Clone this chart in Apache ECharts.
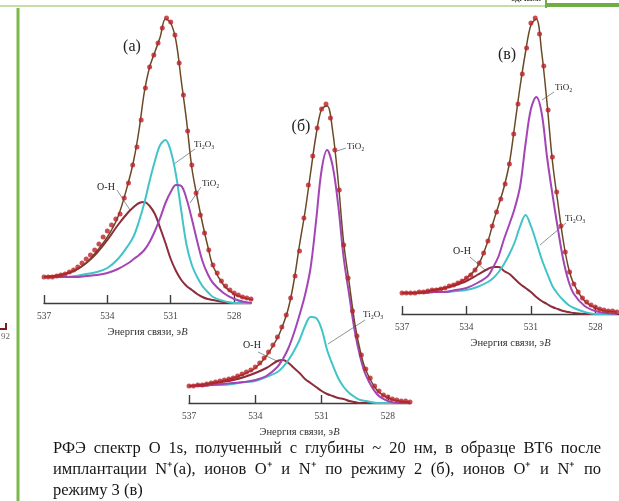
<!DOCTYPE html>
<html>
<head>
<meta charset="utf-8">
<script src="https://cdn.jsdelivr.net/npm/echarts@6/dist/echarts.min.js"></script>
<style>
  html, body { margin: 0; background: #fff; }
  #chart { width: 619px; height: 501px; }
</style>
</head>
<body>
<div id="chart"></div>
<script>
// energy grid of the fitted curves (eV) and of the measured points
const gridE = [537, 536.5, 536, 535.5, 535, 534.5, 534, 533.5, 533, 532.75, 532.5, 532.25, 532, 531.75, 531.5, 531.25, 531, 530.75, 530.5, 530.25, 530, 529.75, 529.5, 529.25, 529, 528.5, 528, 527.5, 527]
const dotE = [537, 536.8, 536.6, 536.4, 536.2, 536, 535.8, 535.6, 535.4, 535.2, 535, 534.8, 534.6, 534.4, 534.2, 534, 533.8, 533.6, 533.4, 533.2, 533, 532.8, 532.6, 532.4, 532.2, 532, 531.8, 531.6, 531.4, 531.2, 531, 530.8, 530.6, 530.4, 530.2, 530, 529.8, 529.6, 529.4, 529.2, 529, 528.8, 528.6, 528.4, 528.2, 528, 527.8, 527.6, 527.4, 527.2, 527]
const tickValues = [528, 531, 534, 537]

// (а)
const envA = [26, 27, 29, 33, 40, 52, 66, 86, 121, 143, 173, 211, 236, 251, 266, 284, 280, 262, 222, 182, 135, 106, 80, 57, 37, 18, 9, 5, 3]
const ohA = [26, 27, 29, 33, 40, 50, 63, 78, 91, 96, 100, 101, 97, 89, 75, 60, 44, 32, 23, 17, 13, 9, 6, 4, 3, 1, 0, 0, 0]
const ti2o3A = [26, 26, 26, 27, 29, 31, 35, 44, 58, 67, 82, 100, 122, 142, 158, 163, 152, 128, 92, 58, 38, 26, 17, 11, 6, 2, 0, 0, 0]
const tio2A = [26, 26, 26, 26, 27, 28, 30, 34, 40, 44, 48, 53, 61, 72, 85, 100, 111, 118, 117, 104, 84, 62, 42, 29, 20, 10, 4, 1, 0]
const dotsA = [26, 26, 26, 27, 28, 29, 31, 33, 36, 40, 44, 48, 53, 59, 66, 72, 78, 84, 89, 105, 120, 138, 156, 183, 215, 236, 248, 260, 275, 285, 281, 268, 240, 208, 172, 138, 110, 88, 70, 53, 38, 30, 22, 17, 13, 10, 8, 6, 5, 4, 3]

// (б)
const envB = [17, 18, 20, 22, 25, 29, 35, 47, 65, 78, 95, 122, 158, 191, 230, 268, 294, 297, 272, 222, 160, 120, 80, 52, 33, 13, 5, 2, 1]
const ohB = [17, 18, 19, 21, 23, 26, 30, 35, 42, 43, 40, 35, 30, 24, 20, 16, 12, 9, 7, 5, 4, 2, 1, 0, 0, 0, 0, 0, 0]
const ti2o3B = [17, 17, 18, 18, 19, 21, 22, 26, 31, 36, 43, 52, 63, 77, 86, 85, 74, 53, 38, 25, 16, 10, 6, 3, 2, 0, 0, 0, 0]
const tio2B = [17, 17, 18, 19, 20, 21, 23, 27, 36, 44, 55, 70, 88, 108, 135, 182, 233, 253, 237, 198, 145, 108, 72, 46, 28, 9, 2, 0, 0]
const dotsB = [17, 17, 18, 18, 19, 20, 21, 22, 23, 24, 25, 27, 29, 31, 33, 36, 40, 45, 51, 58, 66, 76, 88, 105, 127, 152, 185, 218, 247, 275, 294, 299, 285, 253, 213, 158, 125, 92, 67, 48, 34, 25, 17, 12, 8, 6, 4, 3, 2, 2, 1]

// (в)
const envV = [21, 21, 22, 24, 26, 30, 36, 47, 73, 92, 109, 127, 151, 189, 228, 262, 289, 295, 262, 211, 153, 112, 74, 46, 30, 13, 6, 3, 2]
const ohV = [21, 21, 22, 24, 26, 29, 33, 39, 45, 47, 47, 43, 40, 35, 30, 26, 22, 17, 13, 10, 7, 5, 3, 2, 1, 0, 0, 0, 0]
const ti2o3V = [21, 21, 21, 22, 22, 23, 24, 27, 32, 36, 42, 50, 60, 72, 88, 99, 88, 72, 55, 41, 28, 20, 14, 9, 6, 2, 0, 0, 0]
const tio2V = [21, 21, 21, 22, 22, 24, 26, 31, 38, 47, 58, 75, 90, 106, 128, 170, 205, 217, 201, 157, 120, 86, 55, 33, 20, 8, 3, 1, 0]
const dotsV = [21, 21, 21, 21, 22, 22, 23, 24, 24, 25, 26, 28, 29, 31, 33, 36, 39, 44, 51, 61, 73, 88, 102, 115, 130, 150, 180, 210, 240, 266, 291, 296, 280, 248, 204, 157, 122, 88, 62, 42, 30, 22, 16, 12, 9, 7, 5, 4, 3, 3, 2]

const captionLines = [
  'РФЭ спектр О 1s, полученный с глубины ~ 20 нм, в образце ВТ6 после',
  'имплантации N⁺(а), ионов О⁺ и N⁺ по режиму 2 (б), ионов О⁺ и N⁺ по',
  'режиму 3 (в)'
]

const serif = '"Liberation Serif", "Times New Roman", serif'
const colors = { env: '#6a4a26', dot: '#bb2229', oh: '#8b2d3b', ti2o3: '#41c4c8', tio2: '#a445b5', leader: '#8a979b', axis: '#3c3c3c' }

const panels = [
  { left: 44, top: 13, width: 207, height: 290, min: 527.2, env: envA, oh: ohA, ti2o3: ti2o3A, tio2: tio2A, dots: dotsA },
  { left: 189, top: 93, width: 221, height: 310, min: 527, env: envB, oh: ohB, ti2o3: ti2o3B, tio2: tio2B, dots: dotsB },
  { left: 402, top: 4, width: 217, height: 310, min: 526.9, env: envV, oh: ohV, ti2o3: ti2o3V, tio2: tio2V, dots: dotsV }
]

const pairs = (xs, ys) => xs.map((x, i) => [x, ys[i]])

const grid = [], xAxis = [], yAxis = [], series = []
panels.forEach((p, i) => {
  grid.push({ left: p.left, top: p.top, width: p.width, height: p.height, containLabel: false, outerBoundsMode: 'none' })
  xAxis.push({
    type: 'value', gridIndex: i, min: p.min, max: 537, inverse: true,
    axisLine: { lineStyle: { color: colors.axis, width: 1.4 } },
    axisTick: { inside: true, length: 8, customValues: tickValues, lineStyle: { color: colors.axis, width: 1.4 } },
    axisLabel: { customValues: tickValues, margin: 8, fontFamily: serif, fontSize: 9.5, color: '#444' },
    splitLine: { show: false },
    name: '{t|Энергия связи, э}{i|В}', nameLocation: 'middle', nameGap: 24,
    nameTextStyle: { rich: {
      t: { fontFamily: serif, fontSize: 10.5, color: '#333' },
      i: { fontFamily: serif, fontSize: 10.5, color: '#333', fontStyle: 'italic' }
    } }
  })
  yAxis.push({ type: 'value', gridIndex: i, min: 0, max: p.height, show: false })
  const line = (data, color, width, z) => ({
    type: 'line', xAxisIndex: i, yAxisIndex: i, data: pairs(gridE, data),
    showSymbol: false, smooth: 0.35, lineStyle: { color, width }, z, silent: true
  })
  series.push(line(p.oh, colors.oh, 2, 2))
  series.push(line(p.ti2o3, colors.ti2o3, 2, 2))
  series.push(line(p.tio2, colors.tio2, 2, 2))
  series.push(line(p.env, colors.env, 1.5, 3))
  series.push({
    type: 'scatter', xAxisIndex: i, yAxisIndex: i, data: pairs(dotE, p.dots),
    symbolSize: 5, itemStyle: { color: colors.dot }, z: 4, silent: true
  })
})

// annotations: panel letters, peak names and their leader lines
const notes = [
  { text: '(а)', x: 132, y: 47, size: 16 },
  { text: 'Ti₂O₃', x: 194, y: 145, size: 9, align: 'left' },
  { text: 'TiO₂', x: 202, y: 184, size: 9, align: 'left' },
  { text: 'O-H', x: 106, y: 187, size: 10 },
  { text: '(б)', x: 301, y: 127, size: 16 },
  { text: 'TiO₂', x: 347, y: 147, size: 9, align: 'left' },
  { text: 'Ti₂O₃', x: 363, y: 315, size: 9, align: 'left' },
  { text: 'O-H', x: 252, y: 345, size: 10 },
  { text: '(в)', x: 507, y: 55, size: 16 },
  { text: 'TiO₂', x: 555, y: 88, size: 9, align: 'left' },
  { text: 'Ti₂O₃', x: 565, y: 219, size: 9, align: 'left' },
  { text: 'O-H', x: 462, y: 251, size: 10 }
]
const leaders = [
  [195, 149, 174, 164], [201, 187, 190, 203], [117, 190, 130, 210],
  [346, 148, 337, 151], [365, 320, 328, 344], [258, 352, 281, 363],
  [554, 92, 542, 100], [566, 223, 540, 245], [470, 257, 485, 270]
]

const measure = document.createElement('canvas').getContext('2d')
function justified (text, y, x0, x1, font) {
  measure.font = font
  const words = text.split(' ')
  const widths = words.map(w => measure.measureText(w).width)
  const gap = (x1 - x0 - widths.reduce((a, b) => a + b, 0)) / (words.length - 1)
  let x = x0
  return words.map((w, k) => {
    const el = { type: 'text', x, y, style: { text: w, font, fill: '#151515', verticalAlign: 'middle' } }
    x += widths[k] + gap
    return el
  })
}

const captionFont = '16.5px ' + serif
const graphic = [
  // page frame bits around the figure
  { type: 'line', shape: { x1: 0, y1: 6, x2: 546, y2: 6 }, style: { stroke: '#c3dfa6', lineWidth: 2 } },
  { type: 'line', shape: { x1: 546, y1: 5, x2: 619, y2: 5 }, style: { stroke: '#6fae45', lineWidth: 4 } },
  { type: 'line', shape: { x1: 546, y1: 0, x2: 546, y2: 8 }, style: { stroke: '#6fae45', lineWidth: 2 } },
  { type: 'text', x: 526, y: -1, style: { text: 'ед. изм.', font: 'bold 9px ' + serif, fill: '#333', align: 'center', verticalAlign: 'middle' } },
  { type: 'line', shape: { x1: 18, y1: 8, x2: 18, y2: 501 }, style: { stroke: '#7cb84a', lineWidth: 3 } },
  { type: 'polyline', shape: { points: [[0, 329], [6, 329], [6, 323]] }, style: { stroke: '#7a1f1f', lineWidth: 2, fill: null } },
  { type: 'text', x: 1, y: 337, style: { text: '92', font: '9px ' + serif, fill: '#666', verticalAlign: 'middle' } },
  ...notes.map(n => ({
    type: 'text', x: n.x, y: n.y,
    style: { text: n.text, font: n.size + 'px ' + serif, fill: '#222', align: n.align || 'center', verticalAlign: 'middle' }
  })),
  ...leaders.map(l => ({
    type: 'line', shape: { x1: l[0], y1: l[1], x2: l[2], y2: l[3] }, style: { stroke: colors.leader, lineWidth: 1 }
  })),
  ...justified(captionLines[0], 449, 53, 601, captionFont),
  ...justified(captionLines[1], 470, 53, 601, captionFont),
  { type: 'text', x: 53, y: 491, style: { text: captionLines[2], font: captionFont, fill: '#151515', verticalAlign: 'middle' } }
]

const chart = echarts.init(document.getElementById('chart'))
chart.setOption({ animation: false, backgroundColor: '#fff', grid, xAxis, yAxis, series, graphic })
</script>
</body>
</html>
